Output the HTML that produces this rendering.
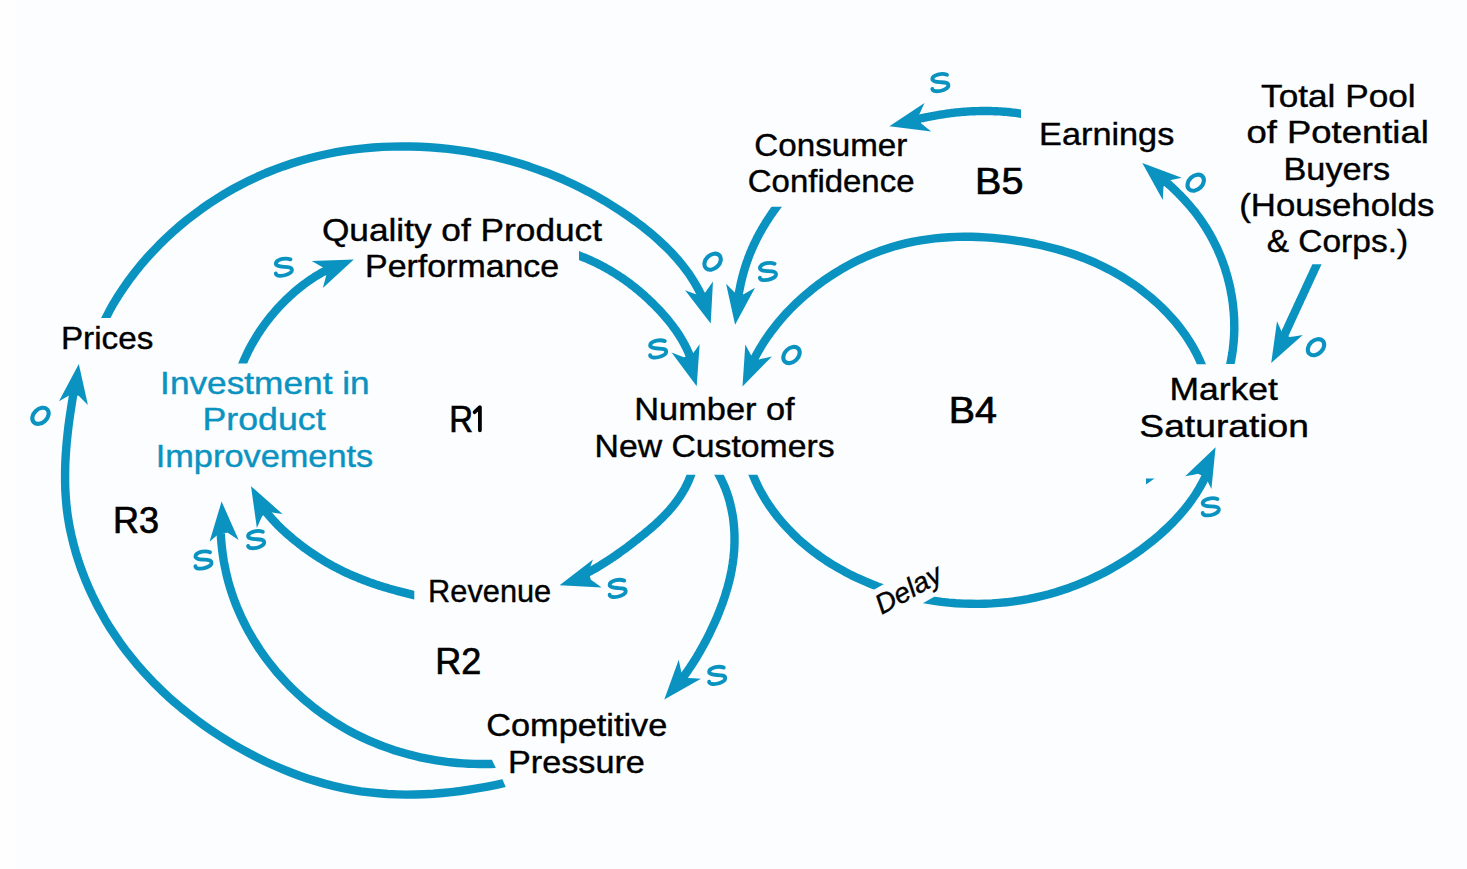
<!DOCTYPE html>
<html><head><meta charset="utf-8"><title>Causal loop diagram</title>
<style>
html,body{margin:0;padding:0;background:#fbfdfe;}
body{width:1467px;height:869px;overflow:hidden;}
svg{display:block;font-family:"Liberation Sans",sans-serif;font-size:32px;}
.a path{fill:none;stroke:#0a93c0;stroke-width:8.4;stroke-linejoin:round;}
.a path.h{fill:#0a93c0;stroke:none;}
.g{fill:none;stroke:#0a93c0;stroke-width:3.8;stroke-linecap:round;}
.o{stroke-width:4.1;}
text{fill:#000;stroke:#000;stroke-width:0.4;}
text.L{stroke-width:0.7;}
text.t{fill:#0a93c0;stroke:#0a93c0;}
</style></head><body>
<svg width="1467" height="869" viewBox="0 0 1467 869">
<rect width="1467" height="869" fill="#fbfdfe"/>
<rect width="15" height="869" fill="#fefefe"/>
<g class="a">
<clipPath id="c0"><rect x="0" y="0" width="1467" height="318"/></clipPath>
<path d="M100.2,328.8 L109.1,311.6 L113.5,303.6 L118.3,295.8 L123.4,288.1 L128.7,280.5 L134.3,273.1 L140.1,265.8 L146.2,258.7 L152.5,251.8 L159.0,245.1 L165.7,238.5 L172.6,232.1 L179.6,226.0 L186.8,220.0 L194.2,214.3 L201.7,208.8 L209.3,203.5 L217.1,198.5 L224.9,193.6 L232.9,189.0 L241.0,184.7 L249.2,180.6 L257.5,176.7 L265.9,173.0 L274.4,169.6 L283.0,166.4 L291.6,163.5 L300.4,160.7 L309.3,158.3 L318.2,156.0 L327.2,154.0 L336.3,152.2 L345.5,150.7 L354.7,149.4 L364.0,148.4 L373.3,147.5 L382.6,146.9 L392.0,146.6 L401.4,146.4 L410.8,146.5 L420.2,146.8 L429.6,147.3 L438.9,148.0 L448.3,148.9 L457.6,150.1 L466.8,151.4 L476.0,153.0 L485.1,154.8 L494.1,156.7 L503.0,158.9 L511.9,161.2 L520.7,163.8 L529.4,166.6 L538.0,169.6 L546.6,172.7 L555.1,176.1 L563.5,179.7 L571.8,183.5 L580.0,187.5 L588.2,191.7 L596.3,196.2 L604.4,200.8 L612.3,205.7 L620.2,210.7 L628.0,216.0 L635.7,221.5 L643.3,227.2 L650.7,233.2 L657.8,239.4 L664.7,245.8 L671.3,252.4 L677.5,259.3 L683.4,266.4 L688.9,273.8 L693.9,281.5 L698.4,289.3 L701.6,295.9" clip-path="url(#c0)"/>
<path class="h" d="M0,0 L-39.5,-14.6 Q-34.5,-8.2 -31.5,-4.2 L-31.5,4.2 Q-34.5,8.2 -39.5,14.6 Z" transform="translate(710.7,323.6) rotate(72.8)"/>
<clipPath id="c1"><rect x="0" y="0" width="1467" height="363.5"/></clipPath>
<path d="M238.0,374.8 L243.1,362.6 L243.7,361.1 L244.3,359.7 L244.9,358.3 L245.6,356.8 L246.3,355.4 L246.9,354.0 L247.6,352.5 L248.3,351.1 L249.0,349.7 L249.8,348.3 L250.5,346.9 L251.2,345.5 L252.0,344.1 L252.8,342.8 L253.6,341.4 L254.4,340.0 L255.2,338.7 L256.0,337.3 L256.8,336.0 L257.7,334.6 L258.5,333.3 L259.4,332.0 L260.2,330.7 L261.1,329.4 L262.0,328.1 L262.9,326.8 L263.8,325.5 L264.8,324.2 L265.7,322.9 L266.7,321.7 L267.6,320.4 L268.6,319.2 L269.6,317.9 L270.5,316.7 L271.5,315.5 L272.6,314.3 L273.6,313.1 L274.6,311.9 L275.6,310.7 L276.7,309.5 L277.7,308.3 L278.8,307.2 L279.9,306.0 L281.0,304.9 L282.1,303.7 L283.2,302.6 L284.3,301.5 L285.4,300.3 L286.5,299.2 L287.7,298.2 L288.8,297.1 L290.0,296.0 L291.1,294.9 L292.3,293.9 L293.5,292.8 L294.7,291.8 L295.9,290.8 L297.1,289.7 L298.3,288.7 L299.6,287.8 L300.8,286.8 L302.0,285.8 L303.3,284.8 L304.6,283.9 L305.8,283.0 L307.1,282.0 L308.4,281.1 L309.7,280.2 L311.0,279.3 L312.3,278.5 L313.6,277.6 L314.9,276.7 L316.3,275.9 L317.6,275.1 L319.0,274.3 L320.3,273.5 L321.7,272.7 L323.1,271.9 L324.5,271.2 L325.9,270.4 L326.9,269.9" clip-path="url(#c1)"/>
<path class="h" d="M0,0 L-39.5,-14.6 Q-34.5,-8.2 -31.5,-4.2 L-31.5,4.2 Q-34.5,8.2 -39.5,14.6 Z" transform="translate(353.8,259.4) rotate(-22.4)"/>
<clipPath id="c2"><rect x="579" y="0" width="888" height="869"/></clipPath>
<path d="M567.9,251.3 L580.4,256.1 L582.1,256.8 L583.9,257.5 L585.6,258.2 L587.3,258.9 L589.0,259.6 L590.7,260.4 L592.4,261.2 L594.1,262.0 L595.8,262.8 L597.4,263.6 L599.1,264.4 L600.7,265.2 L602.3,266.1 L604.0,267.0 L605.6,267.9 L607.2,268.8 L608.8,269.7 L610.4,270.6 L612.0,271.6 L613.5,272.5 L615.1,273.5 L616.7,274.5 L618.2,275.5 L619.7,276.5 L621.3,277.5 L622.8,278.6 L624.3,279.6 L625.8,280.7 L627.3,281.8 L628.8,282.8 L630.2,283.9 L631.7,285.1 L633.2,286.2 L634.6,287.3 L636.0,288.5 L637.5,289.6 L638.9,290.8 L640.3,292.0 L641.7,293.2 L643.1,294.4 L644.5,295.7 L645.8,296.9 L647.2,298.1 L648.6,299.4 L649.9,300.7 L651.2,302.0 L652.6,303.2 L653.9,304.6 L655.2,305.9 L656.5,307.2 L657.8,308.5 L659.1,309.9 L660.3,311.2 L661.6,312.6 L662.8,314.0 L664.1,315.4 L665.3,316.8 L666.5,318.2 L667.7,319.6 L668.9,321.1 L670.0,322.5 L671.2,324.0 L672.3,325.4 L673.4,326.9 L674.5,328.4 L675.6,329.9 L676.6,331.4 L677.6,332.9 L678.7,334.5 L679.6,336.0 L680.6,337.6 L681.6,339.2 L682.5,340.8 L683.4,342.4 L684.3,344.0 L685.1,345.6 L686.0,347.2 L686.8,348.9 L687.5,350.5 L688.3,352.2 L689.0,353.9 L689.7,355.6 L690.4,357.3 L690.7,358.1" clip-path="url(#c2)"/>
<path class="h" d="M0,0 L-39.5,-14.6 Q-34.5,-8.2 -31.5,-4.2 L-31.5,4.2 Q-34.5,8.2 -39.5,14.6 Z" transform="translate(696.7,386.2) rotate(73.7)"/>
<clipPath id="c3"><rect x="0" y="206.8" width="1467" height="662.2"/></clipPath>
<path d="M784.1,196.9 L776.3,207.3 L775.6,208.3 L774.8,209.3 L774.1,210.4 L773.3,211.4 L772.6,212.5 L771.9,213.5 L771.1,214.6 L770.4,215.6 L769.7,216.7 L769.0,217.8 L768.3,218.8 L767.6,219.9 L766.9,221.0 L766.2,222.1 L765.5,223.2 L764.9,224.3 L764.2,225.3 L763.5,226.4 L762.9,227.5 L762.2,228.6 L761.6,229.8 L761.0,230.9 L760.4,232.0 L759.7,233.1 L759.1,234.2 L758.5,235.3 L757.9,236.5 L757.3,237.6 L756.8,238.7 L756.2,239.9 L755.6,241.0 L755.1,242.2 L754.5,243.3 L754.0,244.5 L753.4,245.6 L752.9,246.8 L752.4,248.0 L751.9,249.1 L751.4,250.3 L750.9,251.5 L750.4,252.6 L749.9,253.8 L749.5,255.0 L749.0,256.2 L748.5,257.4 L748.1,258.6 L747.7,259.8 L747.2,261.0 L746.8,262.2 L746.4,263.4 L746.0,264.6 L745.6,265.8 L745.2,267.0 L744.8,268.3 L744.5,269.5 L744.1,270.7 L743.7,271.9 L743.4,273.2 L743.1,274.4 L742.7,275.6 L742.4,276.9 L742.1,278.1 L741.8,279.4 L741.5,280.6 L741.2,281.8 L740.9,283.1 L740.6,284.3 L740.4,285.6 L740.1,286.9 L739.9,288.1 L739.6,289.4 L739.4,290.6 L739.1,291.9 L738.9,293.1 L738.7,294.4 L738.5,295.7 L738.4,296.3" clip-path="url(#c3)"/>
<path class="h" d="M0,0 L-39.5,-14.6 Q-34.5,-8.2 -31.5,-4.2 L-31.5,4.2 Q-34.5,8.2 -39.5,14.6 Z" transform="translate(735.1,324.8) rotate(97.9)"/>
<clipPath id="c4"><rect x="0" y="0" width="1021" height="869"/></clipPath>
<path d="M1032.8,115.3 L1019.9,113.5 L1018.6,113.3 L1017.3,113.1 L1015.9,112.9 L1014.6,112.8 L1013.3,112.6 L1011.9,112.5 L1010.6,112.3 L1009.3,112.2 L1008.0,112.0 L1006.6,111.9 L1005.3,111.8 L1004.0,111.7 L1002.6,111.6 L1001.3,111.5 L1000.0,111.4 L998.6,111.4 L997.3,111.3 L996.0,111.2 L994.6,111.2 L993.3,111.1 L992.0,111.1 L990.6,111.0 L989.3,111.0 L988.0,111.0 L986.6,111.0 L985.3,111.0 L984.0,111.0 L982.6,111.0 L981.3,111.0 L980.0,111.0 L978.6,111.1 L977.3,111.1 L976.0,111.1 L974.6,111.2 L973.3,111.2 L972.0,111.3 L970.6,111.4 L969.3,111.4 L968.0,111.5 L966.6,111.6 L965.3,111.7 L964.0,111.8 L962.6,111.9 L961.3,112.0 L960.0,112.1 L958.7,112.3 L957.3,112.4 L956.0,112.5 L954.7,112.7 L953.4,112.9 L952.0,113.0 L950.7,113.2 L949.4,113.4 L948.1,113.5 L946.7,113.7 L945.4,113.9 L944.1,114.1 L942.8,114.3 L941.5,114.5 L940.1,114.7 L938.8,114.9 L937.5,115.2 L936.2,115.4 L934.9,115.6 L933.6,115.9 L932.2,116.1 L930.9,116.4 L929.6,116.6 L928.3,116.9 L927.0,117.1 L925.7,117.4 L924.4,117.7 L923.1,118.0 L921.8,118.2 L920.5,118.5 L919.1,118.8 L917.8,119.1 L917.2,119.2" clip-path="url(#c4)"/>
<path class="h" d="M0,0 L-39.5,-14.6 Q-34.5,-8.2 -31.5,-4.2 L-31.5,4.2 Q-34.5,8.2 -39.5,14.6 Z" transform="translate(889.4,126.3) rotate(166.7)"/>
<clipPath id="c5"><rect x="0" y="0" width="1467" height="364"/></clipPath>
<path d="M1227.9,375.4 L1230.9,361.4 L1231.4,358.6 L1231.9,355.7 L1232.4,352.8 L1232.8,349.9 L1233.1,347.0 L1233.4,344.1 L1233.7,341.2 L1233.9,338.3 L1234.1,335.4 L1234.2,332.5 L1234.3,329.6 L1234.3,326.6 L1234.2,323.7 L1234.2,320.8 L1234.1,317.9 L1233.9,315.0 L1233.7,312.1 L1233.4,309.2 L1233.1,306.2 L1232.8,303.3 L1232.4,300.5 L1232.0,297.6 L1231.5,294.7 L1230.9,291.8 L1230.4,288.9 L1229.8,286.1 L1229.1,283.2 L1228.4,280.4 L1227.7,277.6 L1226.9,274.8 L1226.0,272.0 L1225.2,269.2 L1224.3,266.4 L1223.3,263.7 L1222.3,260.9 L1221.3,258.2 L1220.2,255.5 L1219.0,252.8 L1217.9,250.1 L1216.7,247.5 L1215.4,244.9 L1214.1,242.2 L1212.8,239.6 L1211.4,237.1 L1210.0,234.5 L1208.5,232.0 L1207.0,229.5 L1205.5,227.0 L1203.9,224.6 L1202.3,222.2 L1200.7,219.8 L1199.0,217.4 L1197.2,215.0 L1195.5,212.7 L1193.7,210.4 L1191.8,208.2 L1189.9,205.9 L1188.0,203.7 L1186.1,201.6 L1184.1,199.4 L1182.1,197.3 L1180.1,195.2 L1178.0,193.1 L1175.9,191.0 L1173.8,189.0 L1171.7,187.0 L1169.5,185.0 L1167.3,183.1 L1165.1,181.2 L1164.7,180.8" clip-path="url(#c5)"/>
<path class="h" d="M0,0 L-39.5,-14.6 Q-34.5,-8.2 -31.5,-4.2 L-31.5,4.2 Q-34.5,8.2 -39.5,14.6 Z" transform="translate(1142.3,163.1) rotate(-139.4)"/>
<clipPath id="c6"><rect x="0" y="0" width="1467" height="364.2"/></clipPath>
<path d="M1206.1,375.3 L1199.2,359.2 L1196.2,352.9 L1192.8,346.7 L1189.1,340.7 L1185.2,334.7 L1180.9,328.9 L1176.5,323.3 L1171.7,317.8 L1166.8,312.5 L1161.6,307.3 L1156.3,302.3 L1150.8,297.5 L1145.1,292.9 L1139.3,288.4 L1133.4,284.2 L1127.4,280.2 L1121.3,276.4 L1115.1,272.8 L1108.8,269.4 L1102.5,266.2 L1096.1,263.2 L1089.6,260.4 L1083.0,257.7 L1076.4,255.3 L1069.7,253.0 L1063.0,250.9 L1056.2,249.0 L1049.3,247.2 L1042.4,245.5 L1035.4,244.0 L1028.4,242.7 L1021.4,241.4 L1014.3,240.4 L1007.1,239.4 L999.9,238.6 L992.7,237.9 L985.5,237.4 L978.3,237.0 L971.0,236.8 L963.8,236.8 L956.5,236.9 L949.3,237.2 L942.1,237.7 L934.9,238.4 L927.8,239.3 L920.7,240.4 L913.6,241.6 L906.6,243.2 L899.7,244.9 L892.8,246.8 L886.0,249.0 L879.2,251.3 L872.6,253.9 L866.0,256.7 L859.5,259.6 L853.1,262.8 L846.8,266.1 L840.6,269.7 L834.6,273.4 L828.6,277.2 L822.7,281.3 L817.0,285.5 L811.4,289.9 L806.0,294.4 L800.7,299.1 L795.5,303.9 L790.5,308.9 L785.6,314.0 L781.0,319.3 L776.4,324.8 L772.1,330.3 L768.0,336.0 L764.0,341.9 L760.3,347.9 L756.8,354.0 L754.1,359.0" clip-path="url(#c6)"/>
<path class="h" d="M0,0 L-39.5,-14.6 Q-34.5,-8.2 -31.5,-4.2 L-31.5,4.2 Q-34.5,8.2 -39.5,14.6 Z" transform="translate(742.5,386.5) rotate(114.1)"/>
<clipPath id="c7"><rect x="0" y="264.3" width="1467" height="604.7"/></clipPath>
<path d="M1321.6,254.1 L1316.6,265.0 L1315.8,266.7 L1315.1,268.3 L1314.3,270.0 L1313.5,271.7 L1312.8,273.3 L1312.0,275.0 L1311.2,276.7 L1310.4,278.3 L1309.7,280.0 L1308.9,281.7 L1308.1,283.3 L1307.4,285.0 L1306.6,286.6 L1305.8,288.3 L1305.1,290.0 L1304.3,291.6 L1303.5,293.3 L1302.8,295.0 L1302.0,296.6 L1301.2,298.3 L1300.4,300.0 L1299.7,301.6 L1298.9,303.3 L1298.1,305.0 L1297.4,306.6 L1296.6,308.3 L1295.8,310.0 L1295.1,311.6 L1294.3,313.3 L1293.5,315.0 L1292.7,316.6 L1292.0,318.3 L1291.2,320.0 L1290.4,321.6 L1289.7,323.3 L1288.9,325.0 L1288.1,326.6 L1287.4,328.3 L1286.6,329.9 L1285.8,331.6 L1285.1,333.3 L1284.3,334.9 L1283.5,336.6 L1282.7,338.3 L1282.0,339.9 L1281.2,341.6 L1280.4,343.3 L1279.7,344.9 L1278.9,346.6" clip-path="url(#c7)"/>
<path class="h" d="M0,0 L-39.5,-14.6 Q-34.5,-8.2 -31.5,-4.2 L-31.5,4.2 Q-34.5,8.2 -39.5,14.6 Z" transform="translate(1271.2,362.9) rotate(118.2)"/>
<clipPath id="c8"><rect x="0" y="474.7" width="1467" height="394.3"/></clipPath>
<path d="M748.2,463.6 L755.1,480.1 L758.2,486.7 L761.6,493.1 L765.3,499.4 L769.2,505.5 L773.4,511.4 L777.8,517.1 L782.4,522.7 L787.3,528.0 L792.3,533.2 L797.5,538.3 L802.9,543.1 L808.5,547.7 L814.2,552.2 L820.1,556.5 L826.1,560.6 L832.2,564.5 L838.5,568.2 L844.8,571.7 L851.3,575.1 L857.8,578.2 L864.5,581.2 L871.2,584.0 L878.0,586.6 L884.9,589.0 L891.8,591.2 L898.8,593.3 L905.8,595.1 L912.9,596.8 L920.0,598.3 L927.1,599.7 L934.3,600.8 L941.5,601.8 L948.7,602.6 L955.9,603.2 L963.1,603.6 L970.3,603.8 L977.6,603.9 L984.8,603.7 L992.0,603.4 L999.2,602.9 L1006.3,602.3 L1013.5,601.4 L1020.6,600.3 L1027.7,599.1 L1034.8,597.7 L1041.9,596.0 L1048.9,594.2 L1055.8,592.2 L1062.7,590.0 L1069.6,587.7 L1076.4,585.1 L1083.1,582.4 L1089.8,579.5 L1096.4,576.4 L1102.9,573.2 L1109.4,569.7 L1115.7,566.2 L1122.0,562.4 L1128.2,558.5 L1134.2,554.5 L1140.2,550.3 L1146.0,545.9 L1151.8,541.4 L1157.4,536.8 L1162.8,532.0 L1168.1,527.1 L1173.3,522.0 L1178.2,516.7 L1182.9,511.3 L1187.5,505.7 L1191.7,500.0 L1195.8,494.0 L1199.5,487.9 L1203.0,481.6 L1206.2,475.1" clip-path="url(#c8)"/>
<path class="h" d="M0,0 L-39.5,-14.6 Q-34.5,-8.2 -31.5,-4.2 L-31.5,4.2 Q-34.5,8.2 -39.5,14.6 Z" transform="translate(1215.6,447.2) rotate(-64.0)"/>
<clipPath id="c9"><rect x="0" y="474.7" width="1467" height="394.3"/></clipPath>
<path d="M695.2,463.1 L690.6,475.7 L690.0,477.4 L689.3,479.0 L688.7,480.7 L687.9,482.3 L687.2,483.9 L686.4,485.5 L685.6,487.0 L684.8,488.6 L683.9,490.1 L683.0,491.6 L682.1,493.1 L681.2,494.6 L680.2,496.1 L679.3,497.5 L678.3,499.0 L677.3,500.4 L676.2,501.8 L675.2,503.2 L674.1,504.6 L673.0,506.0 L671.9,507.3 L670.7,508.6 L669.6,510.0 L668.4,511.3 L667.2,512.6 L666.0,513.9 L664.8,515.1 L663.6,516.4 L662.3,517.7 L661.1,518.9 L659.8,520.1 L658.5,521.4 L657.2,522.6 L655.9,523.8 L654.6,525.0 L653.3,526.2 L652.0,527.3 L650.6,528.5 L649.3,529.6 L647.9,530.8 L646.5,531.9 L645.2,533.1 L643.8,534.2 L642.4,535.3 L641.0,536.4 L639.6,537.5 L638.2,538.6 L636.8,539.7 L635.4,540.8 L634.0,541.9 L632.6,543.0 L631.2,544.1 L629.8,545.1 L628.4,546.2 L627.0,547.3 L625.6,548.3 L624.1,549.4 L622.7,550.4 L621.3,551.4 L619.9,552.4 L618.4,553.5 L617.0,554.5 L615.6,555.5 L614.1,556.5 L612.7,557.5 L611.2,558.4 L609.7,559.4 L608.3,560.4 L606.8,561.3 L605.3,562.3 L603.9,563.2 L602.4,564.1 L600.9,565.1 L599.4,566.0 L597.9,566.9 L596.4,567.8 L594.9,568.7 L593.3,569.5 L591.8,570.4 L590.3,571.2 L588.7,572.1 L587.2,572.9 L586.0,573.5" clip-path="url(#c9)"/>
<path class="h" d="M0,0 L-39.5,-14.6 Q-34.5,-8.2 -31.5,-4.2 L-31.5,4.2 Q-34.5,8.2 -39.5,14.6 Z" transform="translate(559.6,585.2) rotate(162.7)"/>
<clipPath id="c10"><rect x="0" y="474.7" width="1467" height="394.3"/></clipPath>
<path d="M713.0,463.9 L719.9,476.6 L721.3,479.4 L722.6,482.2 L723.9,485.0 L725.1,487.8 L726.2,490.7 L727.2,493.6 L728.2,496.5 L729.1,499.5 L729.9,502.5 L730.6,505.4 L731.3,508.4 L731.9,511.5 L732.5,514.5 L733.0,517.5 L733.4,520.6 L733.7,523.6 L734.0,526.7 L734.2,529.8 L734.4,532.9 L734.5,536.0 L734.5,539.0 L734.5,542.1 L734.4,545.2 L734.3,548.3 L734.1,551.4 L733.8,554.4 L733.5,557.5 L733.1,560.6 L732.7,563.6 L732.2,566.6 L731.7,569.7 L731.1,572.7 L730.5,575.7 L729.8,578.7 L729.1,581.7 L728.3,584.7 L727.5,587.7 L726.6,590.6 L725.7,593.6 L724.8,596.5 L723.8,599.4 L722.8,602.4 L721.7,605.3 L720.6,608.2 L719.5,611.0 L718.4,613.9 L717.2,616.8 L716.0,619.6 L714.7,622.4 L713.4,625.3 L712.1,628.1 L710.8,630.8 L709.5,633.6 L708.1,636.4 L706.7,639.1 L705.3,641.8 L703.8,644.6 L702.3,647.3 L700.8,649.9 L699.3,652.6 L697.7,655.2 L696.2,657.9 L694.5,660.5 L692.9,663.1 L691.2,665.6 L689.5,668.2 L687.8,670.7 L686.0,673.2 L684.2,675.7 L683.1,677.2" clip-path="url(#c10)"/>
<path class="h" d="M0,0 L-39.5,-14.6 Q-34.5,-8.2 -31.5,-4.2 L-31.5,4.2 Q-34.5,8.2 -39.5,14.6 Z" transform="translate(664.3,699.4) rotate(130.3)"/>
<clipPath id="c11"><rect x="0" y="0" width="414.3" height="869"/></clipPath>
<path d="M426.2,597.9 L413.0,594.9 L411.1,594.4 L409.1,593.9 L407.1,593.4 L405.2,592.9 L403.2,592.4 L401.2,591.9 L399.2,591.4 L397.3,590.9 L395.3,590.3 L393.3,589.8 L391.4,589.2 L389.4,588.7 L387.4,588.1 L385.5,587.5 L383.5,586.9 L381.5,586.3 L379.6,585.7 L377.6,585.0 L375.7,584.4 L373.7,583.7 L371.8,583.0 L369.9,582.4 L367.9,581.7 L366.0,580.9 L364.1,580.2 L362.2,579.5 L360.3,578.7 L358.4,578.0 L356.5,577.2 L354.6,576.4 L352.7,575.6 L350.9,574.8 L349.0,574.0 L347.1,573.1 L345.3,572.3 L343.5,571.4 L341.6,570.5 L339.8,569.6 L338.0,568.7 L336.2,567.7 L334.4,566.8 L332.6,565.8 L330.9,564.8 L329.1,563.8 L327.3,562.8 L325.6,561.8 L323.8,560.8 L322.1,559.7 L320.4,558.7 L318.7,557.6 L317.0,556.5 L315.3,555.4 L313.6,554.3 L311.9,553.1 L310.2,552.0 L308.6,550.8 L306.9,549.7 L305.3,548.5 L303.6,547.3 L302.0,546.1 L300.4,544.8 L298.8,543.6 L297.2,542.3 L295.6,541.0 L294.0,539.8 L292.4,538.5 L290.9,537.1 L289.3,535.8 L287.8,534.5 L286.2,533.1 L284.7,531.7 L283.2,530.4 L281.7,529.0 L280.2,527.5 L278.8,526.1 L277.3,524.7 L275.9,523.2 L274.5,521.7 L273.1,520.2 L271.8,518.7 L270.4,517.2 L269.1,515.6 L267.8,514.0 L266.5,512.4 L265.6,511.2" clip-path="url(#c11)"/>
<path class="h" d="M0,0 L-39.5,-14.6 Q-34.5,-8.2 -31.5,-4.2 L-31.5,4.2 Q-34.5,8.2 -39.5,14.6 Z" transform="translate(251.0,486.2) rotate(-118.3)"/>
<clipPath id="c12"><polygon points="-804.9,-1944.9 1792.6,3472.6 -912.6,4769.6 -3510.0,-648.0"/></clipPath>
<path d="M506.2,763.4 L490.0,764.0 L484.6,764.0 L479.3,764.0 L474.0,763.9 L468.6,763.7 L463.2,763.4 L457.8,763.0 L452.5,762.5 L447.1,761.9 L441.7,761.1 L436.4,760.3 L431.0,759.4 L425.7,758.4 L420.4,757.3 L415.1,756.0 L409.8,754.7 L404.6,753.3 L399.4,751.8 L394.3,750.2 L389.2,748.4 L384.1,746.6 L379.1,744.7 L374.1,742.7 L369.2,740.6 L364.3,738.4 L359.5,736.1 L354.7,733.7 L350.0,731.2 L345.3,728.6 L340.7,725.9 L336.2,723.2 L331.7,720.3 L327.3,717.3 L322.9,714.3 L318.6,711.2 L314.3,707.9 L310.2,704.6 L306.1,701.2 L302.0,697.7 L298.1,694.1 L294.2,690.5 L290.3,686.7 L286.6,682.9 L282.9,678.9 L279.3,674.9 L275.8,670.9 L272.4,666.7 L269.1,662.5 L265.8,658.2 L262.7,653.8 L259.6,649.4 L256.7,644.9 L253.8,640.3 L251.1,635.7 L248.4,631.1 L245.9,626.3 L243.5,621.5 L241.2,616.7 L239.0,611.8 L236.9,606.9 L234.9,601.9 L233.1,596.9 L231.4,591.8 L229.8,586.7 L228.3,581.6 L227.0,576.4 L225.8,571.2 L224.7,565.9 L223.7,560.7 L222.9,555.4 L222.2,550.1 L221.6,544.7 L221.1,539.4 L220.8,534.0 L220.7,530.8" clip-path="url(#c12)"/>
<path class="h" d="M0,0 L-39.5,-14.6 Q-34.5,-8.2 -31.5,-4.2 L-31.5,4.2 Q-34.5,8.2 -39.5,14.6 Z" transform="translate(221.6,501.5) rotate(-93.6)"/>
<clipPath id="c13"><polygon points="-698.1,-1970.2 1705.8,3535.7 -1043.5,4736.1 -3447.5,-769.7"/></clipPath>
<path d="M515.1,780.7 L496.3,784.8 L487.4,786.6 L478.5,788.2 L469.5,789.7 L460.5,791.0 L451.4,792.1 L442.3,793.0 L433.3,793.7 L424.2,794.2 L415.1,794.5 L406.0,794.6 L396.9,794.4 L387.8,794.0 L378.8,793.3 L369.8,792.4 L360.8,791.3 L351.9,789.8 L343.0,788.1 L334.2,786.1 L325.4,783.9 L316.7,781.4 L308.0,778.7 L299.4,775.7 L290.9,772.5 L282.5,769.1 L274.1,765.5 L265.8,761.7 L257.7,757.7 L249.6,753.5 L241.6,749.1 L233.6,744.6 L225.9,739.9 L218.2,735.0 L210.6,729.9 L203.1,724.7 L195.8,719.4 L188.6,713.8 L181.5,708.1 L174.6,702.3 L167.8,696.3 L161.2,690.1 L154.8,683.8 L148.5,677.2 L142.4,670.6 L136.4,663.7 L130.7,656.7 L125.1,649.6 L119.7,642.2 L114.6,634.7 L109.6,627.1 L104.9,619.3 L100.4,611.3 L96.1,603.2 L92.1,595.0 L88.3,586.7 L84.8,578.3 L81.5,569.8 L78.5,561.1 L75.8,552.4 L73.4,543.7 L71.3,534.9 L69.4,526.0 L67.9,517.0 L66.7,508.1 L65.9,499.1 L65.3,490.1 L65.1,481.0 L65.1,472.0 L65.3,462.9 L65.8,453.9 L66.5,444.8 L67.4,435.7 L68.4,426.7 L69.6,417.7 L71.0,408.6 L72.4,399.6 L73.6,392.5" clip-path="url(#c13)"/>
<path class="h" d="M0,0 L-39.5,-14.6 Q-34.5,-8.2 -31.5,-4.2 L-31.5,4.2 Q-34.5,8.2 -39.5,14.6 Z" transform="translate(78.8,364.0) rotate(-82.2)"/>
</g>
<polygon points="1146,478.5 1154.5,478.5 1146,484.5" fill="#0a93c0"/>
<g>
<path class="g" d="M6.8,-8 C2,-9.8 -5.5,-8.5 -7.6,-5 C-9,-1.5 -4,-0.8 0,-0.6 C4,-0.4 8.5,-0.5 8.2,3 C7.8,6.5 0,8.8 -4.5,8.4 C-7,8.2 -8,7 -7.9,6" transform="translate(283.7,267.4)"/>
<ellipse class="g o" rx="9.3" ry="6.8" transform="translate(712.6,261.7) rotate(-44)"/>
<path class="g" d="M6.8,-8 C2,-9.8 -5.5,-8.5 -7.6,-5 C-9,-1.5 -4,-0.8 0,-0.6 C4,-0.4 8.5,-0.5 8.2,3 C7.8,6.5 0,8.8 -4.5,8.4 C-7,8.2 -8,7 -7.9,6" transform="translate(658,349.1)"/>
<path class="g" d="M6.8,-8 C2,-9.8 -5.5,-8.5 -7.6,-5 C-9,-1.5 -4,-0.8 0,-0.6 C4,-0.4 8.5,-0.5 8.2,3 C7.8,6.5 0,8.8 -4.5,8.4 C-7,8.2 -8,7 -7.9,6" transform="translate(767.8,271.7)"/>
<ellipse class="g o" rx="9.3" ry="6.8" transform="translate(791.5,355) rotate(-44)"/>
<path class="g" d="M6.8,-8 C2,-9.8 -5.5,-8.5 -7.6,-5 C-9,-1.5 -4,-0.8 0,-0.6 C4,-0.4 8.5,-0.5 8.2,3 C7.8,6.5 0,8.8 -4.5,8.4 C-7,8.2 -8,7 -7.9,6" transform="translate(940.2,82.8)"/>
<ellipse class="g o" rx="9.3" ry="6.8" transform="translate(1195.7,182.7) rotate(-44)"/>
<ellipse class="g o" rx="9.3" ry="6.8" transform="translate(1316,347.2) rotate(-44)"/>
<path class="g" d="M6.8,-8 C2,-9.8 -5.5,-8.5 -7.6,-5 C-9,-1.5 -4,-0.8 0,-0.6 C4,-0.4 8.5,-0.5 8.2,3 C7.8,6.5 0,8.8 -4.5,8.4 C-7,8.2 -8,7 -7.9,6" transform="translate(1210.6,507)"/>
<path class="g" d="M6.8,-8 C2,-9.8 -5.5,-8.5 -7.6,-5 C-9,-1.5 -4,-0.8 0,-0.6 C4,-0.4 8.5,-0.5 8.2,3 C7.8,6.5 0,8.8 -4.5,8.4 C-7,8.2 -8,7 -7.9,6" transform="translate(617.5,588.6)"/>
<path class="g" d="M6.8,-8 C2,-9.8 -5.5,-8.5 -7.6,-5 C-9,-1.5 -4,-0.8 0,-0.6 C4,-0.4 8.5,-0.5 8.2,3 C7.8,6.5 0,8.8 -4.5,8.4 C-7,8.2 -8,7 -7.9,6" transform="translate(717,675.6)"/>
<path class="g" d="M6.8,-8 C2,-9.8 -5.5,-8.5 -7.6,-5 C-9,-1.5 -4,-0.8 0,-0.6 C4,-0.4 8.5,-0.5 8.2,3 C7.8,6.5 0,8.8 -4.5,8.4 C-7,8.2 -8,7 -7.9,6" transform="translate(256,539.8)"/>
<path class="g" d="M6.8,-8 C2,-9.8 -5.5,-8.5 -7.6,-5 C-9,-1.5 -4,-0.8 0,-0.6 C4,-0.4 8.5,-0.5 8.2,3 C7.8,6.5 0,8.8 -4.5,8.4 C-7,8.2 -8,7 -7.9,6" transform="translate(203.3,560.2)"/>
<ellipse class="g o" rx="9.3" ry="6.8" transform="translate(40.5,415.8) rotate(-44)"/>
</g>
<rect x="-6" y="-26" width="84" height="35.8" fill="#fbfdfe" transform="translate(883.1,614.4) rotate(-29.5)"/>
<path d="M474.6,412.2 L479.9,407.2 L479.9,430.3" fill="none" stroke="#000" stroke-width="3.8" stroke-linecap="round" stroke-linejoin="round"/>
<g>
<text x="60.9" y="348.5" textLength="92.4" lengthAdjust="spacingAndGlyphs">Prices</text>
<text x="160.1" y="393.5" class="t" textLength="209.6" lengthAdjust="spacingAndGlyphs">Investment in</text>
<text x="202.5" y="430.3" class="t" textLength="123.1" lengthAdjust="spacingAndGlyphs">Product</text>
<text x="155.7" y="466.9" class="t" textLength="217.6" lengthAdjust="spacingAndGlyphs">Improvements</text>
<text x="321.9" y="241.0" textLength="280.1" lengthAdjust="spacingAndGlyphs">Quality of Product</text>
<text x="365.0" y="276.5" textLength="194.2" lengthAdjust="spacingAndGlyphs">Performance</text>
<text x="634.3" y="420.4" textLength="160.3" lengthAdjust="spacingAndGlyphs">Number of</text>
<text x="594.5" y="456.6" textLength="240.1" lengthAdjust="spacingAndGlyphs">New Customers</text>
<text x="754.3" y="155.9" textLength="153.0" lengthAdjust="spacingAndGlyphs">Consumer</text>
<text x="747.8" y="192.0" textLength="166.7" lengthAdjust="spacingAndGlyphs">Confidence</text>
<text x="1039.1" y="144.6" textLength="135.2" lengthAdjust="spacingAndGlyphs">Earnings</text>
<text x="1261.1" y="106.9" textLength="154.5" lengthAdjust="spacingAndGlyphs">Total Pool</text>
<text x="1246.5" y="142.6" textLength="182.3" lengthAdjust="spacingAndGlyphs">of Potential</text>
<text x="1283.5" y="179.6" textLength="106.6" lengthAdjust="spacingAndGlyphs">Buyers</text>
<text x="1239.3" y="216.0" textLength="195.1" lengthAdjust="spacingAndGlyphs">(Households</text>
<text x="1266.7" y="252.0" textLength="141.4" lengthAdjust="spacingAndGlyphs">&amp; Corps.)</text>
<text x="1169.5" y="400.0" textLength="108.4" lengthAdjust="spacingAndGlyphs">Market</text>
<text x="1139.3" y="436.8" textLength="169.7" lengthAdjust="spacingAndGlyphs">Saturation</text>
<text x="428.1" y="602.2" textLength="123.1" lengthAdjust="spacingAndGlyphs">Revenue</text>
<text x="486.3" y="736.3" textLength="181.0" lengthAdjust="spacingAndGlyphs">Competitive</text>
<text x="508.0" y="773.1" textLength="136.8" lengthAdjust="spacingAndGlyphs">Pressure</text>
<text x="449.2" y="431.6" class="L" font-size="36" textLength="23.8" lengthAdjust="spacingAndGlyphs">R</text>
<text x="435.2" y="673.6" class="L" font-size="36">R2</text>
<text x="113.0" y="533.1" class="L" font-size="36">R3</text>
<text x="948.7" y="423.2" class="L" font-size="36" textLength="48.2" lengthAdjust="spacingAndGlyphs">B4</text>
<text x="975.1" y="194.1" class="L" font-size="36" textLength="48.3" lengthAdjust="spacingAndGlyphs">B5</text>
<text x="881.8" y="615.1" font-size="28" font-style="italic" stroke="none" transform="rotate(-29.5 881.8 615.1)">Delay</text>
</g>
</svg></body></html>
